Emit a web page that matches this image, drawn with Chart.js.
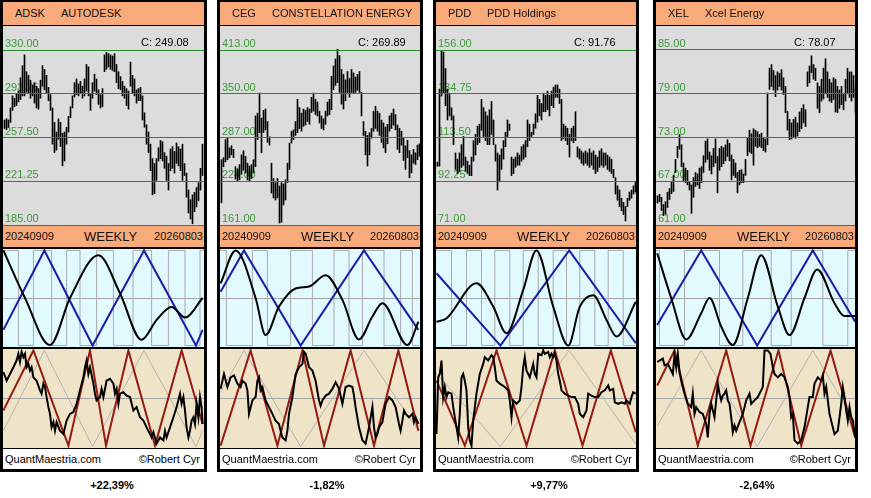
<!DOCTYPE html>
<html>
<head>
<meta charset="utf-8">
<script src="https://cdn.jsdelivr.net/npm/chart.js@4.4.1/dist/chart.umd.min.js"></script>
<style>
  body { margin: 0; background: #fff; font-family: 'Liberation Sans', Arial, sans-serif; }
  #page { position: relative; width: 871px; height: 498px; overflow: hidden; background: #fff; }
  .panel { position: absolute; top: 0; height: 472px; background: #000; }
  .panel > * { position: absolute; }
  .bar { background: #F9AA7B; color: #111; font-size: 11px; white-space: nowrap; }
  .head { top: 2px; height: 23px; line-height: 23px; }
  .dates { top: 226px; height: 21px; line-height: 21px; }
  .foot { top: 449px; height: 20px; line-height: 20px; background: #fff; font-size: 11px; color: #000; }
  .price { top: 26px; background: #DCDCDC; }
  .cycle { top: 249px; background: #E1FAFF; }
  .osc { top: 349px; background: #F0E4C8; }
  .close { top: 36px; font-size: 11px; line-height: 12px; color: #000; }
  .chg { position: absolute; top: 479px; font-size: 11px; font-weight: bold; color: #000; transform: translateX(-50%); }
</style>
</head>
<body>
<div id="page"></div>
<script>
// ---- labels ----
const tickers = ['ADSK', 'CEG', 'PDD', 'XEL'];
const names = ['AUTODESK', 'CONSTELLATION ENERGY', 'PDD Holdings', 'Xcel Energy'];
const closes = ['249.08', '269.89', '91.76', '78.07'];
const changes = ['+22,39%', '-1,82%', '+9,77%', '-2,64%'];
const startDate = '20240909';
const endDate = '20260803';

// ---- price grid ticks ----
const adskTicks = [185, 221.25, 257.5, 293.75, 330];
const cegTicks = [161, 224, 287, 350, 413];
const pddTicks = [71, 92.25, 113.5, 134.75, 156];
const xelTicks = [61, 67, 73, 79, 85];

// ---- weekly high / low ----
const adskHigh = [272,273,272,282,292,290,294,296,307,317,326,312,309,305,301,303,300,298,305,317,314,309,299,293,282,270,262,273,270,261,262,266,275,283,292,303,306,302,304,300,306,318,316,294,303,310,306,297,293,298,326,328,327,326,325,327,318,312,308,304,300,298,296,320,309,306,297,298,299,292,278,268,262,252,240,236,240,249,255,254,245,242,236,248,250,246,253,250,248,252,236,228,214,206,210,212,216,220,232,252];
const adskLow = [265,264,266,270,280,283,284,287,289,292,292,295,294,290,292,286,282,281,290,300,297,294,288,280,252,245,247,256,250,234,238,252,262,274,282,291,293,292,294,290,292,296,292,280,290,296,293,285,282,283,312,314,316,314,313,312,303,298,297,292,290,284,281,300,294,292,286,288,288,272,266,252,245,230,210,211,222,238,240,238,232,222,214,230,232,228,236,234,230,222,226,208,195,190,186,196,200,205,214,226];
const cegHigh = [255,258,284,286,272,275,270,245,242,248,262,268,260,250,246,248,255,318,322,351,315,326,328,310,288,250,228,222,228,217,222,220,226,250,279,296,298,310,342,330,322,328,326,330,328,345,351,342,338,325,318,314,325,338,342,375,390,400,414,405,385,378,370,382,372,385,380,374,378,382,352,310,296,290,294,300,325,332,325,322,312,308,302,306,318,322,328,320,305,300,296,286,275,283,268,262,270,265,276,278];
const cegLow = [193,245,252,255,258,262,258,227,224,226,234,240,236,226,224,228,236,245,284,294,265,294,298,280,276,207,200,197,200,164,165,190,197,222,241,279,284,290,294,300,296,303,305,310,306,323,325,320,318,308,300,298,306,318,320,327,356,362,366,352,335,328,340,350,345,352,350,352,355,352,318,290,262,246,262,286,296,300,296,290,280,272,265,278,296,300,305,298,270,265,276,254,241,258,229,236,250,248,255,260];
const pddHigh = [101.5,137,155.5,155,147,137,135,128,124,106,103,106,110,114,104,102,100,104,112,115,119,120,132,128,126,124,127,131,122,110,106,105,108,112,116,122,120,104,103,104,106,105,109,110,112,122,120,116,120,125,134,132,130,135,134,136,134,136,138,139,139,137,132,120,119,118,115,118,119,126,109,108,107,106,107,106,108,106,107,105,104,107,108,106,106,105,104,103,98,94,90,88,84,82,80,84,87,88,90,92];
const pddLow = [99.5,99.6,133.6,135,129,122,124,122,110,98,96,97,99,100,97,96,95,95,102,105,110,111,117,114,112,110,110,115,110,102,88,92,98,103,109,114,117,95,96,99,100,100,102,103,104,109,112,114,115,118,121,124,122,126,126,127,124,129,128,133,133,130,112,113,112,110,104,112,111,112,104,103,101,100,101,100,99,100,98,96,97,99,100,99,100,98,97,96,94,86,83,80,78,76,73,80,83,84,86,87];
const xelHigh = [65.0,65.2,64.8,63.8,64.2,65.5,66.0,67.0,67.8,70.0,71.8,73.4,72.0,69.5,68.8,68.5,67.0,66.5,67.5,68.2,68.0,68.8,69.0,70.5,72.5,72.8,71.0,70.5,71.5,72.8,70.4,71.5,71.8,71.6,72.0,72.7,72.2,70.6,70.0,69.5,68.2,68.5,68.6,68.0,70.0,73.0,74.0,73.5,74.2,74.0,73.8,73.4,73.6,73.0,72.8,79.1,82.5,83.0,82.2,81.5,82.0,81.8,82.3,81.2,80.0,76.6,75.5,75.0,75.5,75.8,75.0,76.5,77.0,77.5,76.8,82.0,82.8,84.2,83.0,82.5,80.5,80.0,81.0,82.5,83.8,82.0,81.0,80.5,81.2,81.0,80.0,79.5,80.0,79.0,81.0,82.5,82.0,82.0,81.5,80.0];
const xelLow = [64.0,64.2,63.0,62.3,62.5,63.4,64.5,65.3,65.6,68.2,70.2,71.4,69.0,67.0,66.8,66.5,65.8,62.6,64.8,66.3,66.5,66.0,66.8,68.2,69.6,70.0,68.5,68.0,69.0,69.5,65.4,68.5,69.0,69.4,69.8,70.4,69.8,67.2,67.8,67.5,65.4,66.5,66.8,66.8,67.8,70.5,71.0,70.8,69.2,71.8,71.6,71.8,71.6,71.2,71.0,72.0,79.6,80.0,79.5,78.6,79.5,80.0,79.5,78.9,76.4,74.0,72.7,72.8,73.0,72.9,73.2,73.8,74.2,75.0,74.5,80.0,80.5,81.9,81.0,80.8,77.0,76.4,78.0,78.3,79.0,78.5,78.0,77.8,78.2,76.5,76.4,77.0,77.5,76.8,78.0,79.0,78.5,78.0,78.5,76.4];

// ---- cycle panel: [week, level] ----
const adskTriangle = [[0.2,-0.67],[20.7,1],[44.8,-1],[70.5,1],[96.5,-1],[99.8,-0.67]];
const adskWave = [[0.2,1],[11,0],[23.5,-0.99],[33.5,0],[47.7,0.9],[58.5,0.1],[69.3,-0.88],[76.8,-0.46],[84.3,-0.19],[91,-0.41],[99.8,0]];
const adskSquare = [7.7,15.2,24.3,31.8,38.5,46.8,55.2,65,74.3,82.7,91,98.5];
const cegTriangle = [[0.3,0.13],[12,1],[40.3,-1],[72,1],[99.2,-0.67]];
const cegWave = [[0.35,0.31],[7.8,1],[17.8,0],[22.8,-0.78],[29.5,-0.18],[37.8,0.2],[44.5,0.24],[52.8,0.48],[61.2,-0.04],[69.5,-0.87],[76.2,-0.39],[81.2,-0.11],[93.7,-0.99],[99.2,-0.5]];
const cegSquare = [3.2,16.2,23.7,35.3,46.2,57,64.5,71.2,82,90.3,96.2];
const pddTriangle = [[0.25,0.52],[32.2,-1],[66.6,1],[99.9,-0.95]];
const pddWave = [[0.25,-0.5],[5.2,-0.43],[20.25,0.31],[28.6,-0.18],[35.25,-0.74],[43.6,0.17],[50.25,1],[58.6,-0.18],[66.1,-1],[71.9,-0.18],[78.6,0.06],[85.25,-0.46],[90.25,-0.81],[99.9,-0.08]];
const pddSquare = [7.75,15.25,22.75,29.4,36.9,43.6,51.1,58.6,65.25,71.9,79.4,86.1,93.6];
const xelTriangle = [[0.6,-0.57],[22.6,1],[50.6,-1],[78.4,1],[99.6,-0.5]];
const xelWave = [[0.6,0.94],[7.6,0],[15.1,-0.87],[22.6,-0.32],[26.75,0],[32.6,-0.6],[38.4,-0.99],[45.9,0],[52.6,0.9],[60.9,-0.18],[66.75,-0.78],[74.25,0],[80.6,0.6],[89.25,-0.11],[94.25,-0.38],[99.6,-0.38]];
const xelSquare = [1.75,14.25,31.75,43.4,57.6,67.6,83.4,95.9];
const squareStart = [1, 1, 1, 1];

// ---- oscillator panel: [week, level] ----
const adskRed = [[0.15,-0.25],[15.2,1],[32.7,-0.98],[43.5,1],[51.5,-0.98],[62.7,1],[76,-0.98],[89.3,1],[99.8,-0.53]];
const adskOsc = [[0.2,0.55],[1.8,0.37],[3.5,0.51],[5.2,0.65],[6.8,0.79],[7.7,0.93],[8.5,0.76],[9.3,0.97],[10.2,0.86],[11,0.93],[11.8,0.65],[12.7,0.72],[13.5,0.58],[14.3,0.65],[15.2,0.44],[16.8,0.37],[18.5,0.17],[19.3,0.1],[20.2,0.31],[21,0.24],[21.8,0.03],[22.7,-0.18],[23.5,-0.32],[24.3,-0.6],[25.2,-0.49],[26,-0.67],[26.8,-0.49],[28.5,-0.67],[30.2,-0.74],[31.8,-0.46],[33.5,-0.32],[35.2,-0.28],[36.8,-0.11],[38.5,0.17],[40.2,0.44],[41,0.65],[41.8,0.79],[42.7,0.51],[43.5,0.65],[45.2,0.31],[46,0.1],[46.8,-0.04],[48.5,0.03],[49.3,0.2],[50.2,0.03],[51.8,0.37],[53.5,0.41],[55.2,0.31],[56,0.1],[56.8,0.2],[57.7,-0.11],[58.5,0.1],[60.2,0.13],[61.8,0.06],[63.5,0.03],[65.2,-0.25],[66.8,-0.18],[68.5,-0.39],[70.2,-0.46],[71.8,-0.6],[73.5,-0.74],[74.3,-0.81],[75.2,-0.7],[76.8,-0.94],[78.5,-0.81],[80.2,-0.87],[81,-0.67],[81.8,-0.81],[83.5,-0.6],[85.2,-0.39],[86.8,-0.18],[88.5,0.1],[89.3,-0.11],[90.2,0.03],[91,-0.25],[91.8,-0.6],[92.7,-0.81],[93.5,-0.67],[94.3,-0.46],[95.2,-0.39],[96,-0.53],[96.8,-0.11],[97.7,-0.39],[98.5,0.03],[99.3,-0.18],[99.8,-0.53]];
const cegRed = [[0.3,-0.98],[15.3,1],[28.7,-0.98],[41.2,1],[52,-0.98],[65.3,1],[77,-0.98],[89.2,1],[99.2,-0.67]];
const cegOsc = [[0.3,0.2],[2,0.51],[3.7,0.24],[5.3,0.44],[7,0.48],[8.7,0.31],[10.3,0.24],[11.2,0.37],[12.8,0.31],[13.7,0.17],[14.5,-0.32],[16.2,-0.04],[17.8,0.03],[18.7,0.37],[19.5,0.44],[20.3,0.17],[21.2,0.24],[22.8,-0.04],[24.5,-0.18],[26.2,-0.32],[27.8,-0.46],[29.5,-0.53],[30.3,-0.67],[31.2,-0.81],[32.8,-0.87],[33.7,-0.67],[34.5,-0.32],[36.2,0.03],[37.8,0.51],[39.5,0.65],[41.2,0.72],[42,0.97],[42.8,0.93],[43.7,0.79],[44.5,0.65],[46.2,0.58],[47.8,0.37],[49.5,-0.04],[50.3,-0.15],[51.2,-0.04],[52.8,0.06],[54.5,0.1],[56.2,0.2],[57.8,0.34],[59.5,0.2],[61.2,-0.11],[62.8,0.24],[64.5,0.27],[66.2,0.24],[67,0.06],[67.8,-0.18],[69.5,-0.6],[71.2,-0.87],[72.8,-0.94],[74.5,-0.6],[76.2,-0.18],[77,-0.6],[77.8,-0.81],[78.7,-0.74],[79.5,-0.6],[81.2,-0.49],[82.8,-0.11],[84.5,0.03],[86.2,-0.04],[87.8,-0.18],[89.5,-0.53],[90.3,-0.67],[91.2,-0.46],[92,-0.25],[92.8,-0.32],[94.5,-0.39],[96.2,-0.32],[97,-0.49],[97.8,-0.39],[99.2,-0.53]];
const pddRed = [[0.25,0.37],[14.4,-0.98],[30.25,1],[45.25,-0.98],[59.4,1],[73.25,-0.98],[87.4,1],[99.9,-0.7]];
const pddOsc = [[0.25,-0.74],[1.1,0.44],[1.9,0.51],[2.75,0.79],[3.6,0.03],[4.4,0.24],[5.25,0.03],[6.1,0.13],[7.75,0.1],[8.6,-0.18],[10.25,-0.6],[11.1,-0.81],[11.9,-0.32],[12.75,0.44],[13.6,0.51],[14.4,0.37],[15.25,0.17],[16.1,-0.6],[16.9,-0.87],[17.75,-0.98],[18.6,-0.46],[20.25,0.1],[21.9,0.51],[23.6,0.72],[24.4,0.86],[26.1,0.79],[27.75,0.9],[28.6,0.86],[29.4,0.65],[30.25,0.37],[31.9,0.31],[34.4,0.24],[36.1,0.17],[36.9,-0.04],[37.75,-0.39],[38.6,-0.04],[40.25,-0.11],[41.9,-0.04],[42.75,0.24],[43.6,0.65],[44.4,0.86],[45.25,0.58],[46.1,0.51],[46.9,0.44],[47.75,0.58],[48.6,0.72],[49.4,0.51],[50.25,0.44],[51.1,0.93],[52.75,0.9],[53.6,1.0],[54.4,0.93],[56.1,0.97],[56.9,0.86],[57.75,0.93],[58.6,0.86],[59.4,0.93],[60.25,0.79],[61.1,0.51],[61.9,0.37],[62.75,0.17],[64.4,0.1],[66.1,0.06],[67.75,0.03],[69.4,0.03],[71.1,-0.11],[71.9,-0.32],[73.6,-0.39],[75.25,-0.25],[76.1,0.1],[77.75,0.06],[79.4,0.03],[81.1,0.03],[82.75,0.13],[84.4,0.17],[86.1,0.27],[86.9,0.17],[88.6,0.2],[89.4,-0.08],[91.1,-0.11],[92.75,-0.08],[94.4,-0.11],[95.25,-0.04],[96.9,-0.11],[97.75,0.03],[98.6,0.13],[99.9,0.1]];
const xelRed = [[0.6,0.27],[9.25,1],[20.9,-0.98],[35.1,1],[47.25,-0.98],[61.25,1],[72.6,-0.98],[87.25,1],[99.6,-0.81]];
const xelOsc = [[0.6,0.76],[1.75,0.79],[3.4,0.83],[4.25,0.69],[5.9,0.72],[7.6,0.58],[8.4,0.51],[9.25,0.9],[10.1,0.65],[10.9,0.93],[11.75,0.55],[12.6,0.37],[14.25,0.1],[15.9,-0.11],[17.6,-0.18],[18.4,0.1],[19.25,-0.32],[20.1,-0.18],[21.75,-0.28],[23.4,-0.32],[25.1,-0.53],[25.9,-0.81],[26.75,-0.32],[27.6,-0.11],[29.25,-0.39],[30.1,-0.04],[30.9,0.31],[31.75,0.1],[32.6,-0.04],[33.4,0.06],[34.25,0.1],[35.1,0.17],[35.9,-0.04],[36.75,-0.11],[37.6,-0.39],[38.4,-0.7],[39.25,-0.56],[40.1,-0.67],[41.75,-0.49],[43.4,-0.32],[45.1,-0.04],[46.75,0.1],[47.6,-0.11],[49.25,-0.04],[50.9,0.03],[52.6,0.17],[53.4,0.24],[54.25,1.0],[55.9,1.0],[57.25,0.93],[58.4,0.65],[59.25,0.51],[60.9,0.44],[62.6,0.51],[64.25,0.44],[65.9,0.24],[66.75,0.03],[67.6,-0.39],[68.4,-0.32],[69.25,-0.87],[70.9,-0.94],[72.6,-0.87],[74.25,-0.6],[75.9,-0.18],[76.75,0.03],[78.4,0.03],[79.25,0.31],[80.9,0.44],[82.6,0.37],[83.4,0.48],[84.25,0.1],[85.1,0.24],[86.75,-0.32],[88.4,-0.6],[89.25,-0.74],[90.9,-0.67],[92.6,-0.11],[93.4,0.24],[94.25,0.03],[95.1,-0.25],[95.9,-0.46],[96.75,-0.18],[97.6,-0.39],[98.4,-0.46],[99.6,-0.81]];

// ---- layout ----
const panelLeft = [0, 217, 433, 653];
const panelWidth = [207, 206, 206, 205];
const changeCenter = [112, 327, 549, 757];

const highs = [adskHigh, cegHigh, pddHigh, xelHigh];
const lows = [adskLow, cegLow, pddLow, xelLow];
const ticksList = [adskTicks, cegTicks, pddTicks, xelTicks];
const triangles = [adskTriangle, cegTriangle, pddTriangle, xelTriangle];
const waves = [adskWave, cegWave, pddWave, xelWave];
const squares = [adskSquare, cegSquare, pddSquare, xelSquare];
const reds = [adskRed, cegRed, pddRed, xelRed];
const oscs = [adskOsc, cegOsc, pddOsc, xelOsc];

Chart.defaults.font.family = "'Liberation Sans', Arial, sans-serif";

const page = document.getElementById('page');
const toXY = pts => pts.map(([x, y]) => ({ x, y }));

function el(parent, cls, css, text) {
  const d = document.createElement('div');
  if (cls) d.className = cls;
  Object.assign(d.style, css || {});
  if (text !== undefined) d.textContent = text;
  parent.appendChild(d);
  return d;
}

function canvasIn(parent, cls, w, h) {
  const c = document.createElement('canvas');
  c.className = cls;
  c.width = w; c.height = h;
  c.style.left = '3px'; c.style.width = w + 'px'; c.style.height = h + 'px';
  parent.appendChild(c);
  return c;
}

const baseOpts = {
  responsive: false,
  animation: false,
  events: [],
  layout: { padding: 0 },
  plugins: { legend: { display: false }, tooltip: { enabled: false } }
};

function priceChart(canvas, hi, lo, ticks, w) {
  const k = 175 / (ticks[4] - ticks[0]);
  new Chart(canvas, {
    type: 'line',
    data: {
      datasets: [{
        type: 'bar',
        data: hi.map((h, i) => ({ x: i, y: [lo[i], h] })),
        backgroundColor: '#000',
        borderWidth: 0,
        barThickness: 1
      }]
    },
    options: {
      ...baseOpts,
      scales: {
        x: { type: 'linear', display: false, offset: false, bounds: 'data', min: -0.75, max: -0.75 + w / 2 },
        y: {
          min: ticks[0] - 1 / k,
          max: ticks[0] + 199 / k,
          afterBuildTicks: s => { s.ticks = ticks.map(v => ({ value: v })); },
          // labels live inside the plot, so take no room
          afterFit: s => { s.paddingTop = 0; s.paddingBottom = 0; s.width = 0; },
          border: { display: false },
          grid: { color: '#2A8A2A', drawTicks: false, z: 1 },
          ticks: {
            mirror: true, padding: 2, labelOffset: -6, color: '#3A9A3A',
            font: { size: 11 }, callback: v => v.toFixed(2)
          }
        }
      }
    }
  });
}

function bandChart(canvas, datasets, w) {
  new Chart(canvas, {
    type: 'line',
    data: { datasets },
    options: {
      ...baseOpts,
      elements: { point: { radius: 0 } },
      scales: {
        x: { type: 'linear', display: false, offset: false, min: 0, max: w / 2 },
        y: {
          min: -1.03, max: 1.03,
          afterBuildTicks: s => { s.ticks = [{ value: 0 }]; },
          border: { display: false },
          grid: { color: '#A6A6A6', drawTicks: false },
          ticks: { display: false }
        }
      }
    }
  });
}

function squarePoints(xs, start, end) {
  let lv = start;
  const pts = [{ x: 0, y: lv }];
  xs.forEach(x => { lv = -lv; pts.push({ x, y: lv }); });
  pts.push({ x: end, y: lv });
  return pts;
}

tickers.forEach((t, p) => {
  const W = panelWidth[p];
  const iw = W - 6;
  const panel = el(page, 'panel', { left: panelLeft[p] + 'px', width: W + 'px' });

  const head = el(panel, 'bar head', { left: '3px', width: iw + 'px' });
  const tk = el(head, null, { position: 'absolute', left: '12px' }, t);
  const nm = el(head, null, { position: 'absolute' }, names[p]);
  nm.style.left = (12 + tk.offsetWidth + 16) + 'px';

  const pc = canvasIn(panel, 'price', iw, 200);
  priceChart(pc, highs[p], lows[p], ticksList[p], iw);
  el(panel, 'close', { left: '141px' }, 'C: ' + closes[p]);

  const dates = el(panel, 'bar dates', { left: '3px', width: iw + 'px' });
  el(dates, null, { position: 'absolute', left: '2px' }, startDate);
  el(dates, null, { position: 'absolute', left: '81px', fontSize: '13px' }, 'WEEKLY');
  el(dates, null, { position: 'absolute', right: '1px' }, endDate);

  const cc = canvasIn(panel, 'cycle', iw, 98);
  bandChart(cc, [
    { data: toXY(waves[p]), borderColor: '#000', borderWidth: 2, cubicInterpolationMode: 'monotone', order: 0 },
    { data: toXY(triangles[p]), borderColor: '#1C1CA6', borderWidth: 2, order: 1 },
    { data: squarePoints(squares[p], squareStart[p], iw / 2), borderColor: '#A9A9A9', borderWidth: 1, stepped: 'before', order: 2 }
  ], iw);

  const oc = canvasIn(panel, 'osc', iw, 99);
  bandChart(oc, [
    { data: toXY(oscs[p]), borderColor: '#000', borderWidth: 2, order: 0 },
    { data: toXY(reds[p]), borderColor: '#931B12', borderWidth: 2, order: 1 },
    { data: toXY(triangles[p]), borderColor: '#B3B3B3', borderWidth: 1, order: 2 }
  ], iw);

  const foot = el(panel, 'foot', { left: '3px', width: iw + 'px' });
  el(foot, null, { position: 'absolute', left: '2px' }, 'QuantMaestria.com');
  el(foot, null, { position: 'absolute', right: '4px' }, '\u00A9Robert Cyr');

  el(page, 'chg', { left: changeCenter[p] + 'px' }, changes[p]);
});
</script>
</body>
</html>
